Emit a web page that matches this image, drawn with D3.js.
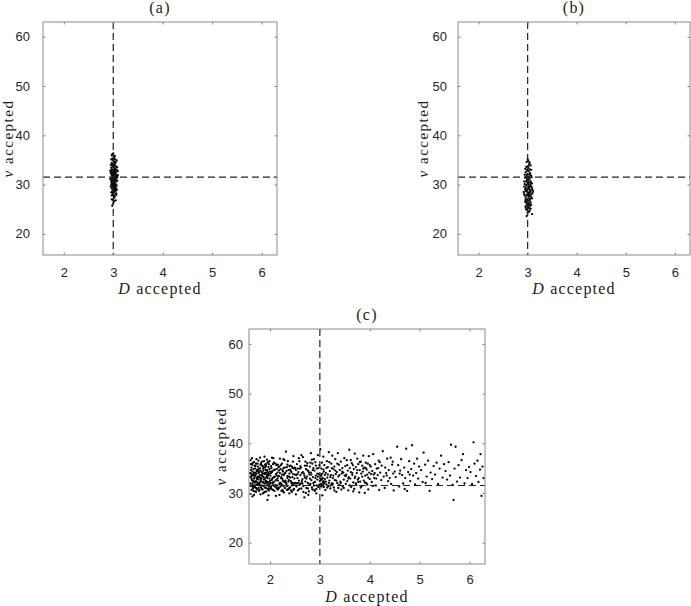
<!DOCTYPE html>
<html>
<head>
<meta charset="utf-8">
<script src="https://cdn.jsdelivr.net/npm/d3@7"></script>
<style>
  body { margin: 0; background: #fff; }
  svg { display: block; }
  .tick text { font-family: "Liberation Sans", Arial, sans-serif; font-size: 13px; fill: #262626; }
  .xlab { font-family: "Liberation Serif", "Times New Roman", serif; font-size: 16px; fill: #1a1a1a; letter-spacing: 1.2px; }
  .ylab { font-family: "Liberation Serif", "Times New Roman", serif; font-size: 15px; fill: #1a1a1a; letter-spacing: 1.5px; }
  .ttl { font-family: "Liberation Serif", "Times New Roman", serif; font-size: 16px; fill: #1a1a1a; letter-spacing: 1.2px; }
</style>
</head>
<body>
<div id="chart"></div>
<script>
// axis ranges and ticks (same on every panel)
const xDomain = [1.58, 6.31];
const yDomain = [15.7, 63];
const xTicks = [2, 3, 4, 5, 6];
const yTicks = [20, 30, 40, 50, 60];
const trueD = 3;
const trueNu = 31.5;
const titles = ["(a)", "(b)", "(c)"];

// accepted samples, panel (a): [D, nu]
const pointsA = [
  [3.00,36.3],[2.97,35.9],[3.02,35.6],[3.04,35.1],[2.99,35.0],[3.01,34.7],[3.05,34.5],[2.97,34.4],[3.03,34.2],[3.00,34.0],
  [2.98,33.8],[3.06,33.7],[3.02,33.5],[2.96,33.4],[3.04,33.3],[3.00,33.1],[3.07,33.0],[2.98,32.9],[3.03,32.8],[3.01,32.6],
  [2.96,32.5],[3.05,32.4],[2.99,32.3],[3.02,32.2],[3.06,32.0],[2.97,31.9],[3.00,31.8],[3.04,31.7],[2.98,31.6],[3.02,31.5],
  [3.07,31.4],[2.96,31.3],[3.01,31.2],[3.05,31.1],[2.99,31.0],[3.03,30.9],[2.97,30.8],[3.00,30.7],[3.06,30.6],[3.02,30.5],
  [2.98,30.4],[3.04,30.2],[3.00,30.1],[2.96,30.0],[3.03,29.9],[3.07,29.8],[2.99,29.6],[3.01,29.5],[3.05,29.4],[2.97,29.2],
  [3.02,29.1],[3.00,28.9],[3.04,28.7],[2.98,28.6],[3.02,28.4],[3.06,28.2],[3.00,28.0],[2.97,27.8],[3.03,27.5],[3.01,27.2],
  [2.99,26.9],[3.02,26.6],[2.98,25.7],[3.09,31.9],[2.94,32.8],
  [3.01,35.3],[2.99,34.1],[3.03,33.9],[3.00,33.6],[2.97,33.0],[3.04,32.6],[3.01,32.0],[2.98,31.2],[3.03,31.0],[3.00,30.4],
  [3.05,30.0],[2.98,29.9],[3.02,29.7],[3.00,29.3],[3.04,29.0],[2.99,28.3],[3.01,27.9],[3.03,28.9],[2.97,30.3],[3.06,31.6],
  [3.00,32.5],[3.02,34.6],[2.98,35.2],[3.04,33.0],[3.01,27.6],
  [2.95,34.0],[3.08,33.5],[2.94,31.1],[3.08,30.8],[2.95,29.6],[3.07,29.0],[2.96,28.4],[3.06,27.9],[2.96,35.1],[3.07,34.9],
  [2.95,32.3],[3.09,32.7],[2.96,30.6],[3.08,31.5],[2.97,27.0],[3.05,26.8],[3.00,26.2],[3.03,35.8],[2.98,36.1],[3.06,28.8]
];

// accepted samples, panel (b): [D, nu]
const pointsB = [
  [3.00,35.1],[2.98,34.6],[3.03,34.2],[3.06,33.9],[2.97,33.6],[3.01,33.4],[3.04,33.1],[2.99,32.9],[3.02,32.7],[2.96,32.5],
  [3.05,32.3],[3.00,32.1],[2.98,31.9],[3.07,31.8],[3.02,31.6],[2.95,31.4],[3.04,31.2],[2.99,31.1],[3.01,30.9],[3.06,30.7],
  [2.97,30.6],[3.03,30.4],[3.00,30.2],[2.94,30.1],[3.05,29.9],[2.98,29.8],[3.02,29.6],[3.08,29.5],[2.96,29.3],[3.01,29.2],
  [3.04,29.0],[2.99,28.9],[3.06,28.7],[2.97,28.6],[3.03,28.4],[3.00,28.3],[2.93,28.1],[3.05,28.0],[2.98,27.8],[3.02,27.7],
  [3.07,27.5],[2.96,27.4],[3.01,27.2],[3.04,27.1],[2.99,26.9],[3.03,26.7],[2.97,26.6],[3.06,26.4],[3.00,26.3],[2.98,26.1],
  [3.02,25.9],[3.05,25.7],[2.96,25.6],[3.01,25.4],[3.03,25.2],[2.99,25.0],[3.04,24.7],[3.00,24.3],[2.98,23.6],[3.09,24.0],
  [3.02,33.8],[2.99,33.0],[3.04,32.0],[2.97,31.5],[3.01,30.5],[3.03,29.4],[2.98,28.8],[3.05,28.5],[3.00,27.9],[2.96,27.0],
  [3.03,26.2],[3.00,25.8],[2.98,30.8],[3.06,29.7],[3.01,28.1],[2.97,29.9],[3.04,27.6],[3.00,31.3],[2.99,26.5],[3.02,30.0],
  [3.10,28.3],[3.09,27.2],[2.95,29.0],[3.07,30.3],[2.96,26.8],[3.05,26.9],
  [2.94,32.0],[3.08,31.5],[2.93,29.6],[3.09,29.1],[2.94,27.8],[3.08,28.0],[2.95,26.5],[3.07,25.9],[2.97,24.9],[3.03,24.5],
  [2.95,33.2],[3.07,33.0],[2.93,30.6],[3.09,30.2],[3.01,34.8],[3.04,34.5],[2.96,25.3],[3.06,25.1],[3.11,28.7],[2.92,28.5]
];

// accepted samples, panel (c): [D, nu]
const pointsC = [
  [1.61,33.2],[1.62,31.4],[1.63,35.1],[1.64,32.6],[1.65,34.3],[1.66,30.9],[1.67,33.8],[1.68,36.2],[1.69,32.1],[1.70,34.9],
  [1.61,29.8],[1.62,34.6],[1.63,32.9],[1.64,35.7],[1.65,31.8],[1.66,33.5],[1.67,30.4],[1.68,34.1],[1.69,33.0],[1.70,31.2],
  [1.71,35.4],[1.72,32.4],[1.73,33.9],[1.74,30.7],[1.75,34.7],[1.76,31.6],[1.77,36.5],[1.78,33.3],[1.79,32.0],[1.80,35.0],
  [1.71,33.7],[1.72,30.2],[1.73,34.4],[1.74,32.8],[1.75,35.9],[1.76,33.1],[1.77,31.0],[1.78,34.8],[1.79,30.6],[1.80,33.6],
  [1.81,32.3],[1.82,36.0],[1.83,31.5],[1.84,34.2],[1.85,33.4],[1.86,29.9],[1.87,35.3],[1.88,32.7],[1.89,34.0],[1.90,31.1],
  [1.81,34.5],[1.82,33.0],[1.83,35.6],[1.84,30.8],[1.85,32.2],[1.86,34.9],[1.87,33.2],[1.88,36.4],[1.89,31.9],[1.90,33.8],
  [1.91,35.2],[1.92,32.5],[1.93,30.3],[1.94,34.6],[1.95,28.6],[1.96,33.5],[1.97,31.3],[1.98,35.8],[1.99,32.9],[2.00,34.3],
  [1.91,33.1],[1.92,35.5],[1.93,32.0],[1.94,36.7],[1.95,31.7],[1.96,34.0],[1.97,33.6],[1.98,30.5],[1.99,34.8],[2.00,32.4],
  [1.62,33.9],[1.66,32.3],[1.70,33.4],[1.74,33.0],[1.78,31.8],[1.82,32.6],[1.86,32.1],[1.90,35.7],[1.94,33.3],[1.98,33.9],
  [1.64,37.0],[1.72,31.0],[1.80,37.1],[1.88,30.1],[1.96,36.2],[1.68,29.6],[1.76,34.4],[1.84,33.7],[1.92,34.1],[2.00,30.9],
  [1.60,34.0],[1.61,31.9],[1.62,35.8],[1.63,30.6],[1.64,33.6],[1.65,36.0],[1.66,31.2],[1.67,34.8],[1.68,32.9],[1.69,35.5],
  [1.70,30.3],[1.71,32.2],[1.72,35.9],[1.73,31.7],[1.74,34.5],[1.75,32.1],[1.76,35.3],[1.77,32.7],[1.78,30.4],[1.79,34.2],
  [1.80,31.5],[1.81,35.7],[1.82,31.1],[1.83,33.5],[1.84,36.3],[1.85,30.7],[1.86,33.9],[1.87,31.4],[1.88,35.1],[1.89,32.8],
  [1.90,30.2],[1.91,34.7],[1.92,31.0],[1.93,35.9],[1.94,32.2],[1.95,34.4],[1.96,30.8],[1.97,35.2],[1.98,32.1],[1.99,36.4],
  [1.63,33.4],[1.67,32.4],[1.71,34.0],[1.75,33.3],[1.79,33.1],[1.83,32.9],[1.87,34.5],[1.91,32.3],[1.95,33.0],[1.99,31.6],
  [1.65,29.3],[1.73,36.8],[1.81,29.7],[1.89,37.3],[1.97,29.5],[1.69,31.5],[1.77,34.0],[1.85,35.4],[1.93,33.7],[1.61,36.6],
  [2.01,33.5],[2.02,31.2],[2.03,35.0],[2.04,32.7],[2.05,34.4],[2.06,30.6],[2.07,33.1],[2.08,36.1],[2.09,32.3],[2.10,34.7],
  [2.11,31.6],[2.12,33.8],[2.13,35.6],[2.14,30.9],[2.15,34.1],[2.16,32.5],[2.17,33.3],[2.18,31.0],[2.19,35.3],[2.20,32.0],
  [2.21,34.8],[2.22,33.0],[2.23,30.4],[2.24,35.9],[2.25,32.8],[2.26,34.3],[2.27,31.4],[2.28,33.6],[2.29,36.6],[2.30,32.2],
  [2.31,34.0],[2.32,38.3],[2.33,31.8],[2.34,35.2],[2.35,33.4],[2.36,30.7],[2.37,34.6],[2.38,32.6],[2.39,33.9],[2.40,31.1],
  [2.41,35.5],[2.42,32.4],[2.43,34.2],[2.44,30.2],[2.45,33.2],[2.46,36.3],[2.47,31.7],[2.48,34.9],[2.49,32.9],[2.50,33.7],
  [2.02,34.0],[2.06,32.1],[2.10,31.3],[2.14,33.5],[2.18,34.5],[2.22,31.9],[2.26,32.4],[2.30,35.1],[2.34,30.6],[2.38,33.3],
  [2.42,34.4],[2.46,32.0],[2.04,37.1],[2.12,29.4],[2.20,36.9],[2.28,30.1],[2.36,36.4],[2.44,31.5],[2.08,33.2],[2.16,35.7],
  [2.24,33.7],[2.32,32.1],[2.40,34.7],[2.48,30.8],[2.05,31.9],[2.25,30.6],[2.45,35.0],[2.15,31.5],[2.35,33.0],[2.03,32.6],
  [2.01,32.0],[2.02,35.4],[2.03,30.8],[2.04,34.2],[2.05,33.0],[2.06,35.8],[2.07,31.5],[2.08,34.6],[2.09,30.4],[2.10,33.3],
  [2.11,35.9],[2.12,32.6],[2.13,31.1],[2.14,34.8],[2.15,32.9],[2.16,30.7],[2.17,35.2],[2.18,33.4],[2.19,31.8],[2.20,34.0],
  [2.21,31.3],[2.22,35.6],[2.23,33.2],[2.24,31.6],[2.25,34.6],[2.26,30.3],[2.27,35.0],[2.28,32.3],[2.29,33.9],[2.30,31.0],
  [2.31,32.5],[2.33,34.4],[2.34,31.4],[2.35,35.7],[2.37,32.3],[2.38,30.9],[2.39,35.4],[2.41,33.1],[2.42,30.5],[2.43,32.0],
  [2.44,35.3],[2.46,33.8],[2.47,30.6],[2.49,35.1],[2.50,31.9],[2.07,37.0],[2.19,29.6],[2.27,36.8],[2.39,29.9],[2.47,37.4],
  [2.51,32.0],[2.52,34.6],[2.53,31.3],[2.54,35.8],[2.55,33.0],[2.56,30.5],[2.57,34.2],[2.58,32.5],[2.59,36.4],[2.60,31.7],
  [2.61,33.6],[2.62,35.1],[2.63,30.9],[2.64,34.0],[2.65,32.8],[2.66,37.2],[2.67,31.4],[2.68,33.9],[2.69,29.1],[2.70,35.5],
  [2.71,32.3],[2.72,34.8],[2.73,31.0],[2.74,33.3],[2.75,36.0],[2.76,32.0],[2.77,34.4],[2.78,30.3],[2.79,33.7],[2.80,35.3],
  [2.81,31.8],[2.82,34.1],[2.83,32.6],[2.84,36.7],[2.85,30.7],[2.86,33.2],[2.87,35.0],[2.88,31.5],[2.89,34.5],[2.90,32.2],
  [2.91,36.2],[2.92,33.5],[2.93,30.8],[2.94,34.9],[2.95,32.7],[2.96,37.6],[2.97,31.2],[2.98,33.8],[2.99,35.6],[3.00,32.4],
  [2.55,33.8],[2.60,34.9],[2.65,31.9],[2.70,33.1],[2.75,34.6],[2.80,32.9],[2.85,35.9],[2.90,30.4],[2.95,33.9],[2.58,37.0],
  [2.72,30.0],[2.88,36.8],
  [2.51,35.0],[2.53,33.6],[2.54,31.9],[2.56,34.9],[2.57,32.0],[2.59,30.8],[2.61,35.4],[2.62,31.9],[2.64,32.4],[2.66,34.2],
  [2.67,30.2],[2.69,33.5],[2.71,36.3],[2.73,32.9],[2.74,35.5],[2.76,30.9],[2.78,34.1],[2.79,31.6],[2.81,36.1],[2.83,33.7],
  [2.84,31.1],[2.86,34.6],[2.87,32.0],[2.89,30.6],[2.91,33.0],[2.92,35.5],[2.94,31.5],[2.96,33.3],[2.97,35.0],[2.99,31.6],
  [2.63,37.6],[2.77,29.6],[2.93,29.9],[2.82,38.0],[2.52,29.7],
  [3.01,38.8],[3.02,31.8],[3.03,33.4],[3.04,36.1],[3.05,29.5],[3.06,32.1],[3.07,34.7],[3.08,31.2],[3.09,35.6],[3.10,32.8],
  [3.11,30.6],[3.12,34.0],[3.13,31.7],[3.14,36.4],[3.15,33.1],[3.16,35.2],[3.17,31.4],[3.18,38.2],[3.19,32.5],[3.20,34.4],
  [3.21,30.9],[3.22,33.6],[3.23,35.9],[3.24,31.9],[3.25,37.5],[3.26,33.0],[3.27,34.8],[3.28,31.1],[3.29,35.3],[3.30,32.6],
  [3.31,36.8],[3.32,33.8],[3.33,30.2],[3.34,34.2],[3.35,32.0],[3.36,38.0],[3.37,33.3],[3.38,35.7],[3.39,31.6],[3.40,34.6],
  [3.41,32.3],[3.42,36.3],[3.43,30.7],[3.44,33.9],[3.45,35.0],[3.46,31.3],[3.47,34.1],[3.48,32.7],[3.49,37.0],[3.50,33.5],
  [3.02,32.6],[3.04,31.5],[3.06,33.0],[3.08,32.2],[3.03,34.9],[3.07,37.3],
  [3.01,32.9],[3.02,33.7],[3.03,31.3],[3.04,32.8],[3.05,33.9],[3.06,31.6],[3.07,32.4],[3.08,34.3],[3.09,31.9],[3.10,33.6],
  [3.12,32.3],[3.13,35.0],[3.15,31.1],[3.16,33.7],[3.18,32.0],[3.19,36.2],[3.21,33.2],[3.22,31.5],[3.24,35.0],[3.26,31.8],
  [3.27,33.5],[3.29,30.5],[3.31,34.5],[3.33,32.5],[3.35,35.9],[3.37,31.0],[3.39,33.6],[3.42,32.0],[3.45,34.3],[3.48,31.0],
  [3.51,35.4],[3.52,31.8],[3.53,33.7],[3.54,36.6],[3.55,32.4],[3.56,34.5],[3.57,30.5],[3.58,33.2],[3.59,38.7],[3.60,35.0],
  [3.61,32.9],[3.62,34.2],[3.63,31.2],[3.64,36.0],[3.65,33.6],[3.66,35.6],[3.67,32.1],[3.68,34.8],[3.69,30.8],[3.70,37.9],
  [3.71,33.3],[3.72,35.2],[3.73,31.6],[3.74,34.0],[3.75,36.9],[3.76,32.7],[3.77,35.8],[3.78,33.0],[3.79,30.1],[3.80,34.6],
  [3.81,32.3],[3.82,36.3],[3.83,33.9],[3.84,31.4],[3.85,35.5],[3.86,34.3],[3.87,37.5],[3.88,32.5],[3.89,35.1],[3.90,30.0],
  [3.91,33.5],[3.92,36.1],[3.93,32.0],[3.94,34.7],[3.95,31.7],[3.96,35.9],[3.97,33.1],[3.98,37.4],[3.99,34.1],[4.00,32.8],
  [3.52,33.4],[3.55,35.6],[3.57,32.9],[3.60,31.5],[3.62,36.6],[3.65,34.0],[3.67,30.3],[3.70,33.0],[3.72,31.9],[3.75,34.6],
  [3.77,32.2],[3.80,36.2],[3.82,31.1],[3.85,33.3],[3.87,34.9],[3.90,32.1],[3.92,35.0],[3.95,33.7],[3.97,30.7],[4.00,35.6],
  [4.03,33.8],[4.06,31.4],[4.10,34.0],[4.13,32.9],[4.17,35.0],
  [4.02,35.3],[4.04,32.2],[4.05,34.4],[4.07,37.8],[4.09,33.0],[4.11,35.8],[4.12,31.5],[4.14,34.9],[4.16,33.6],[4.18,36.5],
  [4.19,30.6],[4.21,34.1],[4.23,32.6],[4.24,35.5],[4.26,38.4],[4.28,33.3],[4.30,31.0],[4.31,35.1],[4.33,34.0],[4.35,36.9],
  [4.37,32.4],[4.38,34.6],[4.40,33.0],[4.42,37.1],[4.43,31.8],[4.45,35.7],[4.47,33.9],[4.48,30.5],[4.50,34.3],[4.08,33.7],
  [4.20,36.2],[4.34,33.5],[4.46,36.3],
  [4.52,33.2],[4.55,39.3],[4.57,35.6],[4.59,31.3],[4.61,34.5],[4.63,36.8],[4.65,33.6],[4.67,31.9],[4.69,35.1],[4.71,33.0],
  [4.73,38.9],[4.75,30.4],[4.77,34.2],[4.79,36.4],[4.81,32.4],[4.83,34.8],[4.85,39.6],[4.87,33.5],[4.89,35.9],[4.91,31.7],
  [4.93,34.0],[4.95,36.9],[4.97,32.9],[4.99,35.3],[4.60,33.9],[4.80,33.7],[4.70,30.8],
  [5.03,34.6],[5.06,32.2],[5.08,38.1],[5.11,35.7],[5.14,33.3],[5.17,36.5],[5.20,30.4],[5.22,34.1],[5.25,32.8],[5.28,35.4],
  [5.31,33.7],[5.34,36.1],[5.37,31.8],[5.40,34.9],[5.43,37.5],[5.46,33.1],[5.49,35.8],[5.12,32.0],
  [5.52,34.4],[5.55,32.7],[5.58,36.2],[5.61,33.5],[5.63,39.7],[5.66,31.6],[5.68,28.6],[5.70,34.9],[5.72,39.3],[5.75,32.3],
  [5.78,35.6],[5.81,33.1],[5.84,36.6],[5.87,37.8],[5.90,31.9],[5.93,34.6],[5.96,33.0],[5.99,35.2],
  [6.02,34.2],[6.05,31.8],[6.08,40.2],[6.10,35.9],[6.13,33.4],[6.16,36.5],[6.18,32.2],[6.21,34.7],[6.22,37.8],[6.24,29.4],
  [6.26,35.3],[6.28,33.0]
];

const width = 691, height = 606;

// panel boxes in pixels (left, right, top, bottom) and label offsets
const panels = [
  { pts: pointsA, title: titles[0], l: 43,  r: 277, t: 22,  b: 255, tickGap: 13, yLabGap: 30, xLabGap: 39, xTickGap: 22 },
  { pts: pointsB, title: titles[1], l: 458, r: 690, t: 22,  b: 255, tickGap: 11, yLabGap: 30, xLabGap: 39, xTickGap: 22 },
  { pts: pointsC, title: titles[2], l: 249, r: 485, t: 329, b: 564, tickGap: 6,  yLabGap: 23, xLabGap: 37.5, xTickGap: 20 }
];

const svg = d3.select("#chart").append("svg")
  .attr("width", width)
  .attr("height", height);

panels.forEach(drawPanel);

function drawPanel(p) {
  const x = d3.scaleLinear().domain(xDomain).range([p.l, p.r]);
  const y = d3.scaleLinear().domain(yDomain).range([p.b, p.t]);
  const g = svg.append("g");

  // points
  g.append("g")
    .selectAll("circle")
    .data(p.pts)
    .join("circle")
    .attr("cx", d => x(d[0]))
    .attr("cy", d => y(d[1]))
    .attr("r", 1.15)
    .attr("fill", "#000");

  // reference lines
  g.append("line")
    .attr("x1", x(trueD)).attr("x2", x(trueD))
    .attr("y1", p.t).attr("y2", p.b)
    .attr("stroke", "#222").attr("stroke-width", 1.2)
    .attr("stroke-dasharray", "7,4");
  g.append("line")
    .attr("x1", p.l).attr("x2", p.r)
    .attr("y1", y(trueNu)).attr("y2", y(trueNu))
    .attr("stroke", "#222").attr("stroke-width", 1.2)
    .attr("stroke-dasharray", "7,4");

  // axes: ticks inward on all four sides, box drawn separately
  const tickLen = 2.5;
  const axB = g.append("g").attr("transform", `translate(0,${p.b})`)
    .call(d3.axisBottom(x).tickValues(xTicks).tickSize(-tickLen).tickPadding(p.xTickGap - 9).tickFormat(d3.format("d")));
  const axL = g.append("g").attr("transform", `translate(${p.l},0)`)
    .call(d3.axisLeft(y).tickValues(yTicks).tickSize(-tickLen).tickPadding(p.tickGap).tickFormat(d3.format("d")));
  const axT = g.append("g").attr("transform", `translate(0,${p.t})`)
    .call(d3.axisTop(x).tickValues(xTicks).tickSize(-tickLen).tickFormat(""));
  const axR = g.append("g").attr("transform", `translate(${p.r},0)`)
    .call(d3.axisRight(y).tickValues(yTicks).tickSize(-tickLen).tickFormat(""));
  [axB, axL, axT, axR].forEach(a => {
    a.select(".domain").remove();
    a.selectAll(".tick line").attr("stroke", "#808080");
  });
  axB.selectAll(".tick text").attr("dy", "0.71em");

  g.append("rect")
    .attr("x", p.l).attr("y", p.t)
    .attr("width", p.r - p.l).attr("height", p.b - p.t)
    .attr("fill", "none")
    .attr("stroke", "#8a8a8a")
    .attr("stroke-width", 1);

  // labels
  const cx = (p.l + p.r) / 2;
  g.append("text")
    .attr("class", "ttl")
    .attr("x", cx).attr("y", p.t - 9)
    .attr("text-anchor", "middle")
    .text(p.title);

  const xl = g.append("text")
    .attr("class", "xlab")
    .attr("x", cx).attr("y", p.b + p.xLabGap)
    .attr("text-anchor", "middle");
  xl.append("tspan").attr("font-style", "italic").text("D");
  xl.append("tspan").text(" accepted");

  const cy = (p.t + p.b) / 2;
  const yl = g.append("text")
    .attr("class", "ylab")
    .attr("transform", `translate(${p.l - p.yLabGap},${cy}) rotate(-90)`)
    .attr("text-anchor", "middle");
  yl.append("tspan").attr("font-style", "italic").text("ν");
  yl.append("tspan").text(" accepted");
}
</script>
</body>
</html>
